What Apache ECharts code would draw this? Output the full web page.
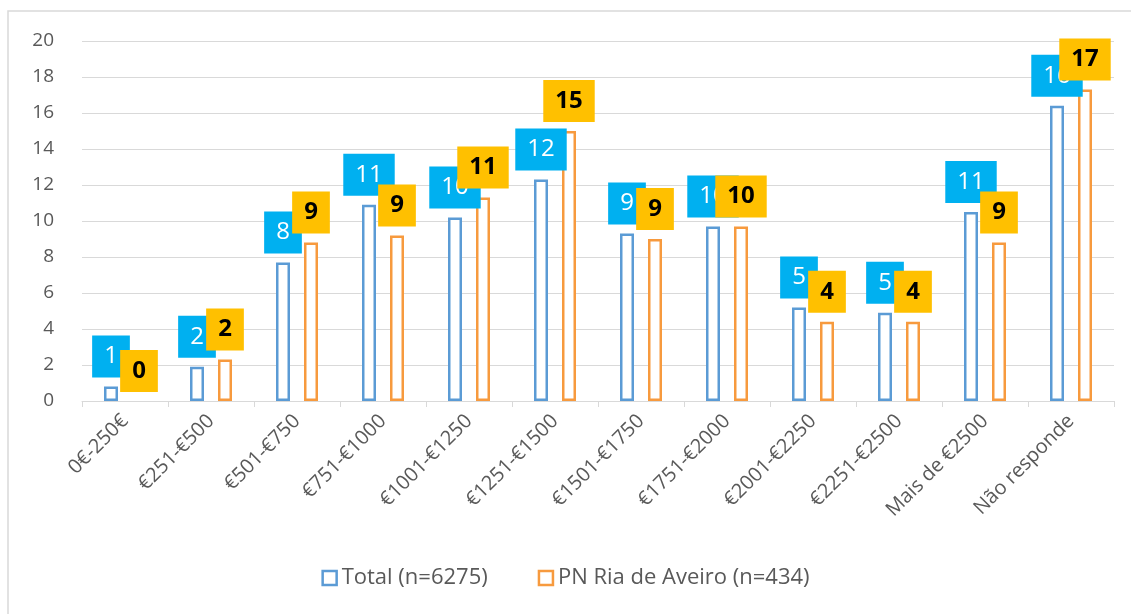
<!DOCTYPE html>
<html>
<head>
<meta charset="utf-8">
<script src="https://cdn.jsdelivr.net/npm/echarts@6/dist/echarts.min.js"></script>
<style>
  html, body { margin: 0; padding: 0; background: #fff; }
  #chart { width: 1131px; height: 614px; }
</style>
</head>
<body>
<div id="chart"></div>
<script>
  // categorias de rendimento
  const categories = ['0€-250€', '€251-€500', '€501-€750', '€751-€1000', '€1001-€1250', '€1251-€1500',
    '€1501-€1750', '€1751-€2000', '€2001-€2250', '€2251-€2500', 'Mais de €2500', 'Não responde']
  const seriesNames = ['Total (n=6275)', 'PN Ria de Aveiro (n=434)']
  const totalValues = [0.8, 1.9, 7.7, 10.9, 10.2, 12.3, 9.3, 9.7, 5.2, 4.9, 10.5, 16.4]
  const pnValues = [0, 2.3, 8.8, 9.2, 11.3, 15.0, 9.0, 9.7, 4.4, 4.4, 8.8, 17.3]
  const yTicks = [0, 2, 4, 6, 8, 10, 12, 14, 16, 18, 20]

  const font = '"Open Sans", "Noto Sans", sans-serif'
  const blue = '#5B9BD5'
  const orange = '#F79A3E'

  let chart = echarts.init(document.getElementById('chart'))

  function makeSeries(name, values, stroke, boxColor, textColor, weight) {
    // barra com valor 0 nao mostra contorno
    let data = values.map(v => v === 0 ? {value: v, itemStyle: {borderWidth: 0}} : v)
    return {
      name: name,
      type: 'bar',
      data: data,
      barWidth: 14,
      barGap: '100%',
      itemStyle: {color: '#fff', borderColor: stroke, borderWidth: 2.5},
      label: {
        show: true,
        position: 'top',
        distance: 9,
        formatter: p => Math.round(p.value),
        backgroundColor: boxColor,
        color: textColor,
        fontFamily: font,
        fontSize: 24,
        fontWeight: weight,
        padding: [9, 12, 9, 12],
        lineHeight: 24
      }
    }
  }

  chart.setOption({
    animation: false,
    graphic: [{
      type: 'rect',
      shape: {x: 8, y: 11, width: 1300, height: 800},
      style: {fill: 'none', stroke: '#D9D9D9', lineWidth: 1.5},
      silent: true,
      z: -1
    }],
    grid: {left: 82, right: 17, top: 41, bottom: 213},
    legend: {
      bottom: 20,
      left: 'center',
      itemGap: 50,
      itemWidth: 14,
      itemHeight: 14,
      textStyle: {color: '#595959', fontFamily: font, fontSize: 22},
      data: [
        {name: seriesNames[0], icon: 'rect', itemStyle: {color: '#fff', borderColor: blue, borderWidth: 2.5}},
        {name: seriesNames[1], icon: 'rect', itemStyle: {color: '#fff', borderColor: orange, borderWidth: 2.5}}
      ]
    },
    xAxis: {
      type: 'category',
      data: categories,
      axisLine: {lineStyle: {color: '#D9D9D9', width: 1}},
      axisTick: {show: true, length: 6, lineStyle: {color: '#D9D9D9'}},
      axisLabel: {
        rotate: 45,
        color: '#595959',
        fontFamily: font,
        fontSize: 20,
        margin: 17
      }
    },
    yAxis: {
      type: 'value',
      min: yTicks[0],
      max: yTicks[yTicks.length - 1],
      interval: 2,
      axisLine: {show: false},
      axisTick: {show: false},
      splitLine: {lineStyle: {color: '#D9D9D9'}},
      axisLabel: {
        color: '#595959',
        fontFamily: font,
        fontSize: 19,
        margin: 28
      }
    },
    series: [
      makeSeries(seriesNames[0], totalValues, blue, '#00B0F0', '#fff', 'normal'),
      makeSeries(seriesNames[1], pnValues, orange, '#FFC000', '#000', 'bold')
    ]
  })
</script>
</body>
</html>
